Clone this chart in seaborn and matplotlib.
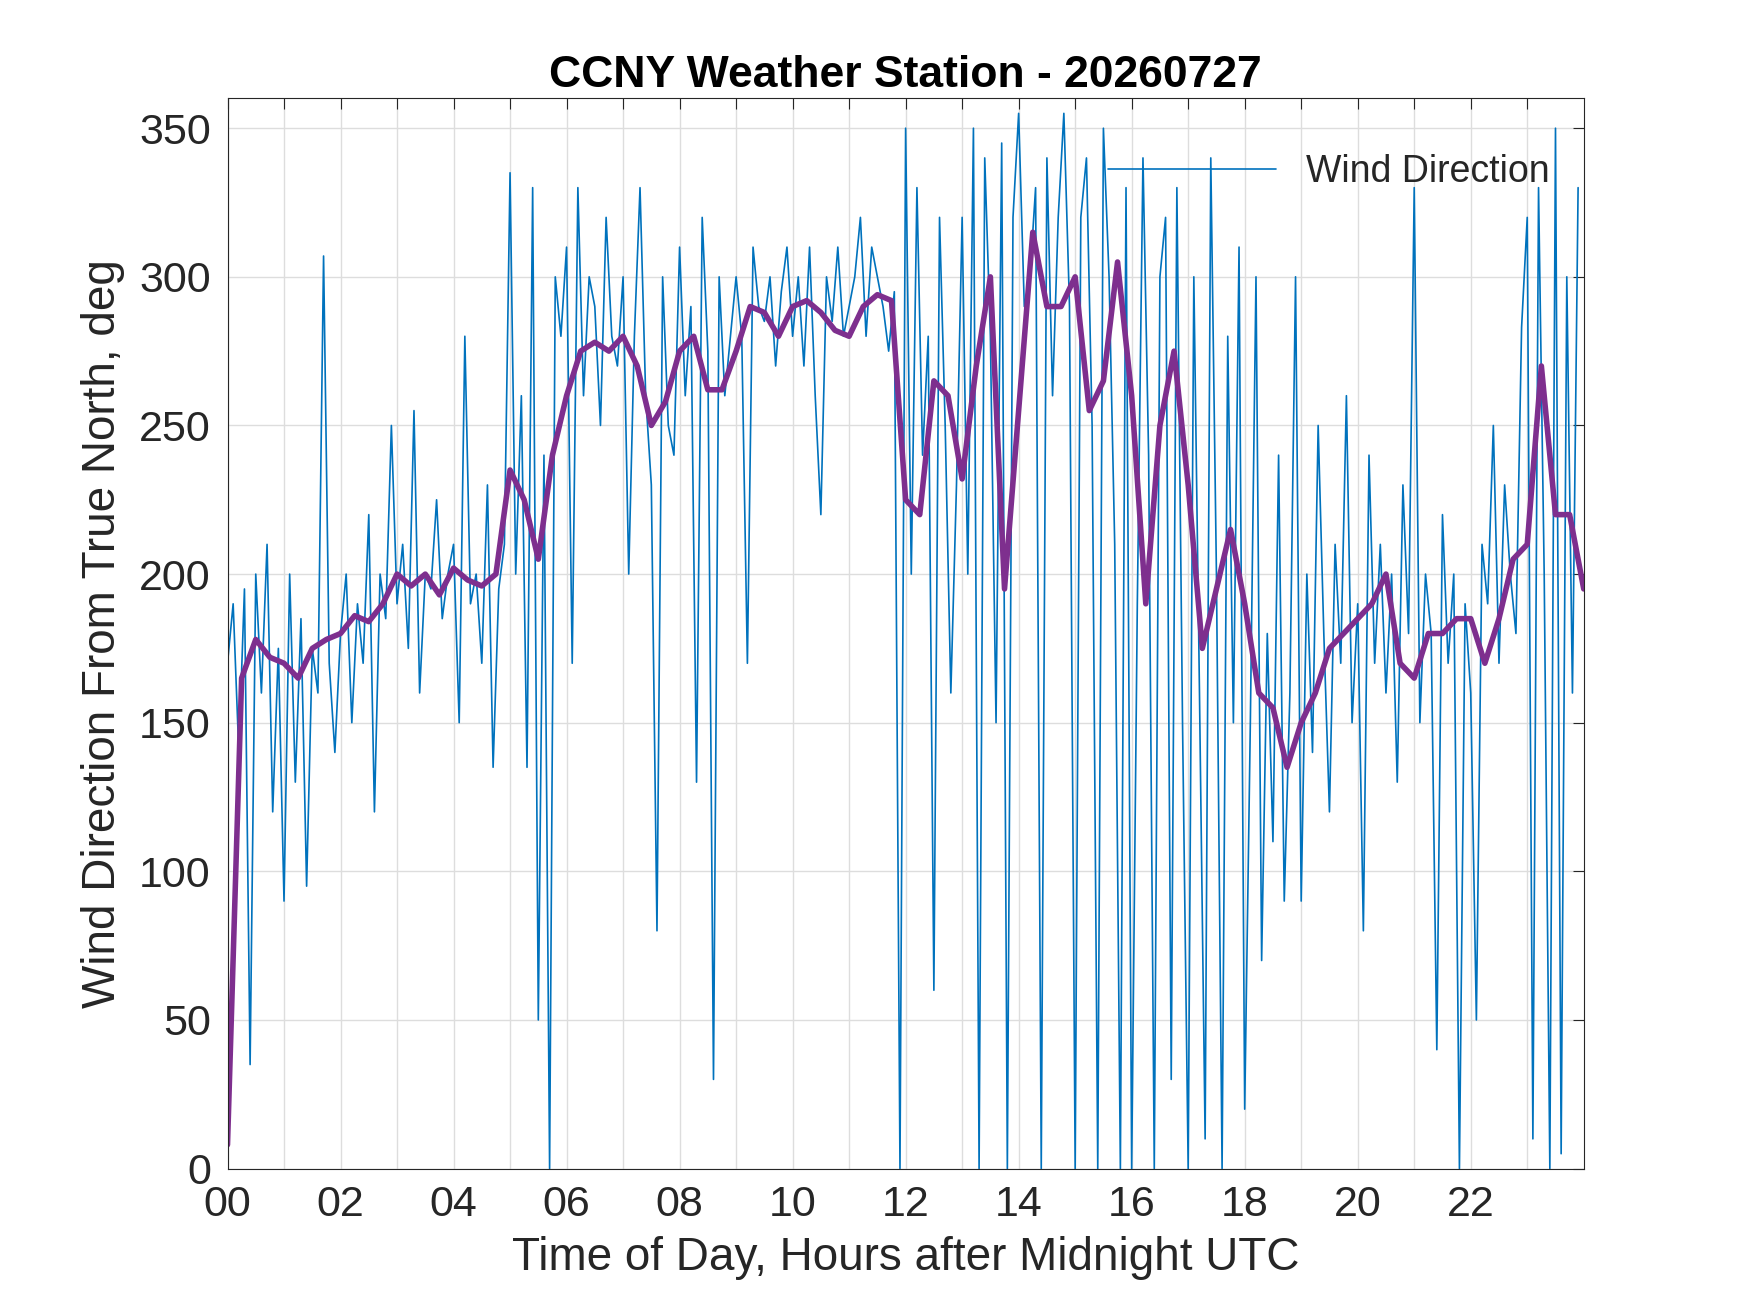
import numpy as np
import pandas as pd
import seaborn as sns
import matplotlib.pyplot as plt

# wind direction, 6-minute samples (10 per hour)
wind_dir = [
    170, 190, 140, 195, 35, 200, 160, 210, 120, 175,
    90, 200, 130, 185, 95, 175, 160, 307, 170, 140,
    180, 200, 150, 190, 170, 220, 120, 200, 185, 250,
    190, 210, 175, 255, 160, 200, 195, 225, 185, 200,
    210, 150, 280, 190, 200, 170, 230, 135, 195, 210,
    335, 200, 260, 135, 330, 50, 240, 0, 300, 280,
    310, 170, 330, 260, 300, 290, 250, 320, 280, 270,
    300, 200, 280, 330, 260, 230, 80, 300, 250, 240,
    310, 260, 290, 130, 320, 275, 30, 300, 260, 280,
    300, 280, 170, 310, 290, 285, 300, 270, 295, 310,
    280, 300, 270, 310, 260, 220, 300, 285, 310, 280,
    290, 300, 320, 280, 310, 300, 290, 275, 295, 0,
    350, 200, 330, 240, 280, 60, 320, 250, 160, 230,
    320, 200, 350, 0, 340, 280, 150, 345, 0, 320,
    355, 290, 300, 330, 0, 340, 260, 320, 355, 290,
    0, 320, 340, 250, 0, 350, 300, 210, 0, 330,
    0, 190, 340, 240, 0, 300, 320, 30, 330, 150,
    0, 300, 160, 10, 340, 200, 0, 280, 150, 310,
    20, 150, 300, 70, 180, 110, 240, 90, 160, 300,
    90, 200, 140, 250, 180, 120, 210, 170, 260, 150,
    190, 80, 240, 170, 210, 160, 200, 130, 230, 180,
    330, 150, 200, 180, 40, 220, 170, 200, 0, 190,
    160, 50, 210, 190, 250, 170, 230, 200, 180, 283,
    320, 10, 330, 200, 0, 350, 5, 300, 160, 330,
]
wind_hours = [i / 10 for i in range(len(wind_dir))]

# running mean, 15-minute samples
avg_dir = [
    8, 165, 178, 172, 170, 165, 175, 178, 180, 186, 184, 190,
    200, 196, 200, 193, 202, 198, 196, 200, 235, 225, 205, 240,
    260, 275, 278, 275, 280, 270, 250, 258, 275, 280, 262, 262,
    275, 290, 288, 280, 290, 292, 288, 282, 280, 290, 294, 292,
    225, 220, 265, 260, 232, 270, 300, 195, 255, 315, 290, 290,
    300, 255, 265, 305, 260, 190, 250, 275, 230, 175, 195, 215,
    190, 160, 155, 135, 150, 160, 175, 180, 185, 190, 200, 170,
    165, 180, 180, 185, 185, 170, 185, 205, 210, 270, 220, 220,
    195,
]
avg_hours = [i / 4 for i in range(len(avg_dir))]

sns.set_style("white")
plt.rcParams['font.family'] = ['Liberation Sans', 'DejaVu Sans']

fig = plt.figure(figsize=(17.5, 13.13), dpi=100)
ax = fig.add_axes([0.13, 0.11, 0.775, 0.815])

sns.lineplot(x=wind_hours, y=wind_dir, ax=ax, color='#0072BD', lw=1.2, label='Wind Direction')
sns.lineplot(x=avg_hours, y=avg_dir, ax=ax, color='#7E2F8E', lw=4)

ax.set_xlim(0, 24)
ax.set_ylim(0, 360)
ax.set_xticks(range(0, 24))
ax.set_xticklabels([f'{h:02d}' if h % 2 == 0 else '' for h in range(24)])
ax.set_yticks(range(0, 351, 50))
ax.grid(True, color='#dddddd', lw=1)
ax.tick_params(labelsize=31, colors='#262626', direction='in', length=8, top=True, right=True, pad=12)
for s in ax.spines.values():
    s.set_color('#262626')
ax.set_xlabel('Time of Day, Hours after Midnight UTC', fontsize=33, color='#262626', labelpad=8)
ax.set_ylabel('Wind Direction From True North, deg', fontsize=33, color='#262626', labelpad=10)
ax.set_title('CCNY Weather Station - 20260727', fontsize=32, fontweight='bold', color='black', pad=8)
ax.legend(loc='upper right', frameon=False, fontsize=27, handlelength=4.5, bbox_to_anchor=(1.0, 0.98))

plt.savefig('out.png', dpi=100)
